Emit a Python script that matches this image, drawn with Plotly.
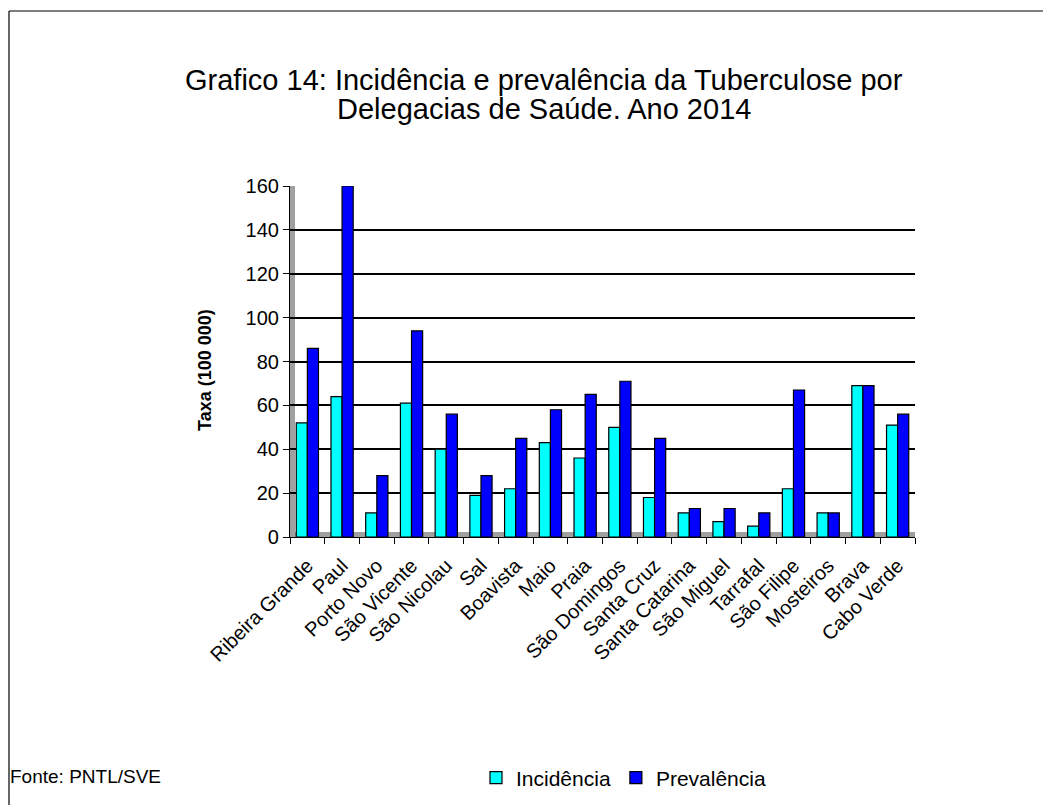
import plotly.graph_objects as go

delegacias = [
    "Ribeira Grande", "Paul", "Porto Novo", "São Vicente", "São Nicolau",
    "Sal", "Boavista", "Maio", "Praia", "São Domingos", "Santa Cruz",
    "Santa Catarina", "São Miguel", "Tarrafal", "São Filipe", "Mosteiros",
    "Brava", "Cabo Verde",
]
incidencia = [52, 64, 11, 61, 40, 19, 22, 43, 36, 50, 18, 11, 7, 5, 22, 11, 69, 51]
prevalencia = [86, 160, 28, 94, 56, 28, 45, 58, 65, 71, 45, 13, 13, 11, 67, 11, 69, 56]
y_ticks = [0, 20, 40, 60, 80, 100, 120, 140, 160]
title_lines = [
    "Grafico 14: Incidência e prevalência da Tuberculose por",
    "Delegacias de Saúde. Ano 2014",
]

FONT = "Liberation Sans, Arial, sans-serif"

# plot area in figure pixels
L, R, T, B = 282, 144, 178, 276
PW, PH = 1051 - L - R, 805 - T - B


def px(x):
    return (x - L) / PW


def py(y):
    return (T + PH - y) / PH


fig = go.Figure()
fig.add_trace(go.Bar(
    x=delegacias, y=incidencia, name="Incidência",
    marker=dict(color="#00FFFF", line=dict(color="black", width=1.2)),
))
fig.add_trace(go.Bar(
    x=delegacias, y=prevalencia, name="Prevalência",
    marker=dict(color="#0000FF", line=dict(color="black", width=1.2)),
))

fig.update_layout(
    width=1051, height=805,
    margin=dict(l=L, r=R, t=T, b=B),
    paper_bgcolor="white", plot_bgcolor="white",
    font=dict(family=FONT, color="black", size=18),
    barmode="group", bargap=0.36, bargroupgap=0,
    legend=dict(
        orientation="h", x=px(468), xanchor="left", y=py(770), yanchor="middle",
        font=dict(size=21), itemwidth=30, traceorder="normal",
    ),
    showlegend=True,
)

fig.update_yaxes(
    range=[0, 160], tickvals=y_ticks,
    showgrid=True, gridcolor="black", gridwidth=1.5,
    showline=True, linecolor="black", linewidth=1.2,
    ticks="outside", ticklen=6, tickcolor="black",
    tickfont=dict(size=20), zeroline=False,
)
fig.update_xaxes(
    tickangle=-45, tickson="boundaries",
    ticks="outside", ticklen=6, tickcolor="black",
    showline=True, linecolor="black", linewidth=1.2,
    tickfont=dict(size=20), ticklabelstandoff=8,
)

# title, one annotation per line for tighter spacing
for line, ty in zip(title_lines, [72, 101]):
    fig.add_annotation(
        text=line, xref="paper", yref="paper",
        x=px(536), xanchor="center", y=py(ty), yanchor="middle",
        showarrow=False, font=dict(size=29),
    )

# grey side wall and floor hint
fig.add_shape(type="rect", xref="paper", yref="paper", x0=0, x1=px(L + 5), y0=0, y1=1,
              fillcolor="#A0A0A0", line=dict(width=0), layer="below")
fig.add_shape(type="rect", xref="paper", yref="paper", x0=0, x1=1, y0=0, y1=py(T + PH - 5),
              fillcolor="#A0A0A0", line=dict(width=0), layer="below")

# outer frame (left and top edges)
fig.add_shape(type="line", xref="paper", yref="paper",
              x0=px(1), x1=px(1), y0=py(810), y1=py(3),
              line=dict(color="black", width=1.2))
fig.add_shape(type="line", xref="paper", yref="paper",
              x0=px(1), x1=px(1060), y0=py(3), y1=py(3),
              line=dict(color="black", width=1.2))

fig.add_annotation(
    text="<b>Taxa (100 000)</b>", xref="paper", yref="paper",
    x=px(197), xanchor="center", y=py(362), yanchor="middle",
    textangle=-90, showarrow=False, font=dict(size=18),
)
fig.add_annotation(
    text="Fonte: PNTL/SVE", xref="paper", yref="paper",
    x=px(0), xanchor="left", y=py(768), yanchor="middle",
    showarrow=False, font=dict(size=19),
)

fig.write_html("out.html")
